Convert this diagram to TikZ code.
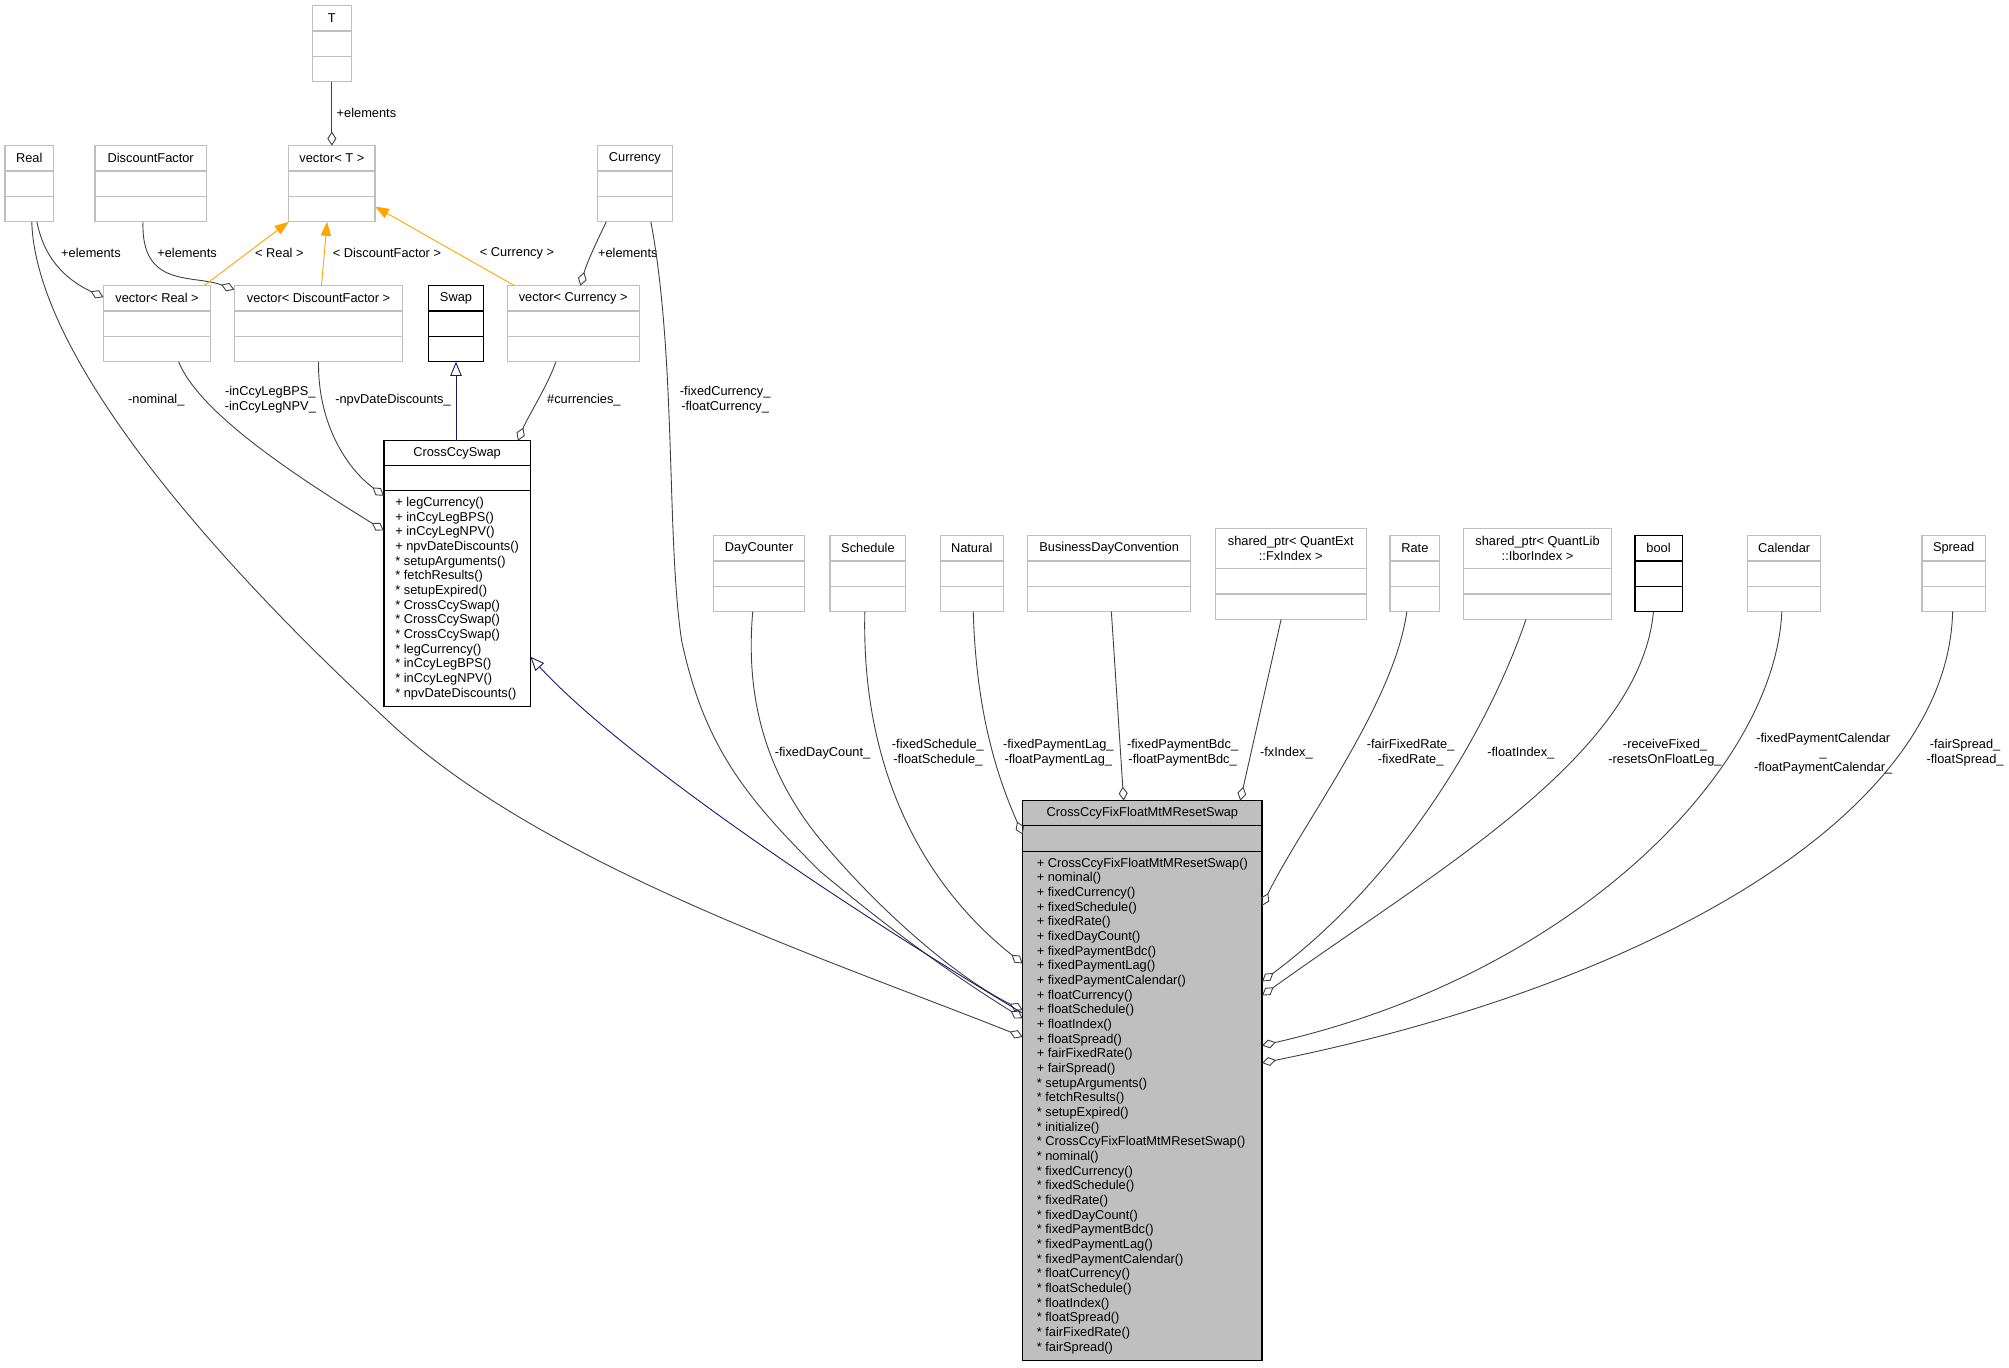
\documentclass[tikz,border=0pt]{standalone}
\usepackage{fontspec}
\setmainfont{Liberation Sans}
\usetikzlibrary{arrows.meta,positioning}
\definecolor{boxgray}{HTML}{BFBFBF}
\definecolor{edgegray}{HTML}{404040}
\definecolor{tmplorange}{HTML}{FFA500}
\definecolor{inhnavy}{HTML}{191970}

\begin{document}
\begin{tikzpicture}[
  x=1pt, y=-1pt,
  every node/.style={font=\fontsize{10}{11.45}\selectfont},
  cls/.style={draw=boxgray, line width=1pt, fill=white, inner sep=0pt,
              outer sep=0pt, align=center},
  lbl/.style={align=center, inner sep=0pt},
  agg/.style={draw=edgegray, line width=0.7pt,
              -{Diamond[open, length=11pt, width=7pt]}},
  tmpl/.style={draw=tmplorange, line width=0.7pt,
               -{Triangle[length=11pt, width=8pt]}},
  inh/.style={draw=inhnavy, line width=0.7pt,
              -{Triangle[open, length=11pt, width=9pt]}}
]
\useasboundingbox (0,0) rectangle (1568,1067);

%% plain classes: title + two empty compartments
\foreach \id/\x/\y/\w/\h/\ttl/\bc in {
  t/259/14.3/30.3/19.8/T/boxgray,
  real/22.8/123.6/38/19.8/Real/boxgray,
  disc/117.6/123.6/86.8/19.8/DiscountFactor/boxgray,
  vect/259/123.6/67.3/19.8/vector< T >/boxgray,
  curr/495.5/123.6/58.5/19.8/Currency/boxgray,
  vreal/122.6/232.9/83.7/19.8/vector< Real >/boxgray,
  vdisc/248.6/232.9/131.4/19.8/vector< DiscountFactor >/boxgray,
  swap/355.9/232.9/42.8/19.8/Swap/black,
  vcurr/447.4/232.9/103.1/19.8/vector< Currency >/boxgray,
  dayc/592.5/427.9/71/19.8/DayCounter/boxgray,
  sched/677.4/427.9/59.2/19.8/Schedule/boxgray,
  natural/758.4/427.9/49.2/19.8/Natural/boxgray,
  bdc/865.7/427.9/127.2/19.8/BusinessDayConvention/boxgray,
  fxidx/1007.4/428.2/117.7/31.2/{shared\_ptr< QuantExt\\::FxIndex >}/boxgray,
  rate/1104.3/427.9/38.8/19.8/Rate/boxgray,
  ibor/1200/428.2/115/31.2/{shared\_ptr< QuantLib\\::IborIndex >}/boxgray,
  bool/1294.5/427.9/37/19.8/bool/black,
  cal/1392.5/427.9/57/19.8/Calendar/boxgray,
  spread/1524.8/427.9/49.6/19.8/Spread/boxgray}{
  \node[cls, draw=\bc, minimum width=\w pt, minimum height=\h pt] (\id) at (\x,\y) {\ttl};
  \node[cls, draw=\bc, minimum width=\w pt, minimum height=19.8pt, below=0pt of \id] (\id-a) {};
  \node[cls, draw=\bc, minimum width=\w pt, minimum height=19.8pt, below=0pt of \id-a] (\id-m) {};
}

%% CrossCcySwap
\node[cls, draw=black, minimum width=114.3pt, minimum height=19.4pt] (ccs) at (356.75,353.7) {CrossCcySwap};
\node[cls, draw=black, minimum width=114.3pt, minimum height=19.6pt, below=0pt of ccs] (ccs-a) {};
\node[cls, draw=black, minimum width=114.3pt, minimum height=168.5pt, align=left, below=0pt of ccs-a] (ccs-m)
  {+ legCurrency()\\+ inCcyLegBPS()\\+ inCcyLegNPV()\\+ npvDateDiscounts()\\
   * setupArguments()\\* fetchResults()\\* setupExpired()\\* CrossCcySwap()\\
   * CrossCcySwap()\\* CrossCcySwap()\\* legCurrency()\\* inCcyLegBPS()\\
   * inCcyLegNPV()\\* npvDateDiscounts()};

%% CrossCcyFixFloatMtMResetSwap
\node[cls, draw=black, fill=boxgray, minimum width=186.9pt, minimum height=19.6pt] (main) at (891.6,634.6) {CrossCcyFixFloatMtMResetSwap};
\node[cls, draw=black, fill=boxgray, minimum width=186.9pt, minimum height=19.9pt, below=0pt of main] (main-a) {};
\node[cls, draw=black, fill=boxgray, minimum width=186.9pt, minimum height=397.5pt, align=left, below=0pt of main-a] (main-m)
  {+ CrossCcyFixFloatMtMResetSwap()\\+ nominal()\\+ fixedCurrency()\\+ fixedSchedule()\\
   + fixedRate()\\+ fixedDayCount()\\+ fixedPaymentBdc()\\+ fixedPaymentLag()\\
   + fixedPaymentCalendar()\\+ floatCurrency()\\+ floatSchedule()\\+ floatIndex()\\
   + floatSpread()\\+ fairFixedRate()\\+ fairSpread()\\* setupArguments()\\
   * fetchResults()\\* setupExpired()\\* initialize()\\* CrossCcyFixFloatMtMResetSwap()\\
   * nominal()\\* fixedCurrency()\\* fixedSchedule()\\* fixedRate()\\
   * fixedDayCount()\\* fixedPaymentBdc()\\* fixedPaymentLag()\\* fixedPaymentCalendar()\\
   * floatCurrency()\\* floatSchedule()\\* floatIndex()\\* floatSpread()\\
   * fairFixedRate()\\* fairSpread()};

%% vector< T > and its instances
\draw[agg] (t-m.south) -- (vect.north);
\draw[agg] ([xshift=6pt]real-m.south) .. controls (35,205) and (55,220) .. ([yshift=-9pt]vreal.north west);
\draw[agg] ([xshift=-6pt]disc-m.south) .. controls (110,225) and (150,214) .. ([yshift=-3pt]vdisc.north west);
\draw[agg] ([xshift=-22.3pt]curr-m.south) .. controls (466,188) and (458,205) .. ([xshift=5.6pt]vcurr.north);
\draw[tmpl] ([xshift=36.5pt]vreal.north) -- (vect-m.south west);
\draw[tmpl] ([xshift=2.3pt]vdisc.north) -- ([xshift=-3.7pt]vect-m.south);
\draw[tmpl] ([xshift=-45.7pt]vcurr.north) -- ([yshift=2pt]vect-m.east);

\node[lbl] (l-tel)   at (286,88)    {+elements};
\node[lbl] (l-rel)   at (71,197.6)  {+elements};
\node[lbl] (l-del)   at (146,197.6) {+elements};
\node[lbl] (l-cel)   at (490,197.6) {+elements};
\node[lbl] (l-treal) at (218,197.6) {< Real >};
\node[lbl] (l-tdisc) at (302,197.6) {< DiscountFactor >};
\node[lbl] (l-tcurr) at (403.5,197.6) {< Currency >};

%% CrossCcySwap members and base
\draw[inh] (ccs.north -| swap-m.south) -- (swap-m.south);
\draw[agg] ([xshift=16.8pt]vreal-m.south) .. controls (155,320) and (220,365) .. ([yshift=-31pt]ccs-m.north west);
\draw[agg] (vdisc-m.south) .. controls (248,330) and (270,365) .. ([yshift=-4pt]ccs-m.north west);
\draw[agg] ([xshift=-13.6pt]vcurr-m.south) .. controls (428,300) and (412,325) .. ([xshift=47.5pt]ccs.north);

\node[lbl] (l-nom) at (122,312)   {-nominal\_};
\node[lbl] (l-leg) at (211,312)   {-inCcyLegBPS\_\\-inCcyLegNPV\_};
\node[lbl] (l-npv) at (306.7,312) {-npvDateDiscounts\_};
\node[lbl] (l-ccy) at (455.7,312) {\#currencies\_};
\node[lbl] (l-cur) at (566,312)   {-fixedCurrency\_\\-floatCurrency\_};

%% main class: left side
\draw[agg] ([xshift=2pt]real-m.south) .. controls (28,280) and (170,440) .. (300,560)
  .. controls (420,675) and (650,750) .. ([yshift=-145pt]main-m.north west);
\draw[agg] ([xshift=12.5pt]curr-m.south) .. controls (528,280) and (520,420) .. (532,500)
  .. controls (550,585) and (585,625) .. (640,680)
  .. controls (700,730) and (750,765) .. ([yshift=-130.5pt]main-m.north west);
\draw[agg] ([xshift=-5pt]dayc-m.south) .. controls (582,540) and (595,600) .. (640,655)
  .. controls (690,715) and (750,765) .. ([yshift=-124pt]main-m.north west);
\draw[inh] ([yshift=-126.5pt]main-m.north west) .. controls (600,672) and (468,572) .. ([yshift=-129.5pt]ccs-m.north east);
\draw[agg] ([xshift=-2.4pt]sched-m.south) .. controls (672,600) and (720,690) .. ([yshift=-87.7pt]main-m.north west);
\draw[agg] ([xshift=1.2pt]natural-m.south) .. controls (762,560) and (780,610) .. ([yshift=3pt]main-a.west);

%% main class: top
\draw[agg] ([xshift=1.7pt]bdc-m.south) -- ([xshift=-14.6pt]main.north);
\draw[agg] ([xshift=-7.5pt]fxidx-m.south) -- ([xshift=76.4pt]main.north);

%% main class: right side
\draw[agg] ([xshift=-6.3pt]rate-m.south) .. controls (1088,550) and (1015,645) .. ([yshift=-42.7pt]main-m.north east);
\draw[agg] ([xshift=-9pt]ibor-m.south) .. controls (1165,560) and (1100,680) .. ([yshift=-101.7pt]main-m.north east);
\draw[agg] ([xshift=-4pt]bool-m.south) .. controls (1280,590) and (1120,680) .. ([yshift=-112.7pt]main-m.north east);
\draw[agg] ([xshift=-1.8pt]cal-m.south) .. controls (1385,600) and (1230,760) .. ([yshift=-151.7pt]main-m.north east);
\draw[agg] ([xshift=-0.8pt]spread-m.south) .. controls (1520,640) and (1280,770) .. ([yshift=-165.3pt]main-m.north east);

\node[lbl] (l-day)   at (642,587.5)  {-fixedDayCount\_};
\node[lbl] (l-sch)   at (732,587.5)  {-fixedSchedule\_\\-floatSchedule\_};
\node[lbl] (l-lag)   at (826,587.5)  {-fixedPaymentLag\_\\-floatPaymentLag\_};
\node[lbl] (l-bdc)   at (923,587.5)  {-fixedPaymentBdc\_\\-floatPaymentBdc\_};
\node[lbl] (l-fx)    at (1004,587.5) {-fxIndex\_};
\node[lbl] (l-rate)  at (1101,587.5) {-fairFixedRate\_\\-fixedRate\_};
\node[lbl] (l-ibor)  at (1187,587.5) {-floatIndex\_};
\node[lbl] (l-bool)  at (1299.5,587.5) {-receiveFixed\_\\-resetsOnFloatLeg\_};
\node[lbl] (l-cal)   at (1423,588)   {-fixedPaymentCalendar\\\_\\-floatPaymentCalendar\_};
\node[lbl] (l-sprd)  at (1533.7,587.5) {-fairSpread\_\\-floatSpread\_};

\end{tikzpicture}
\end{document}
